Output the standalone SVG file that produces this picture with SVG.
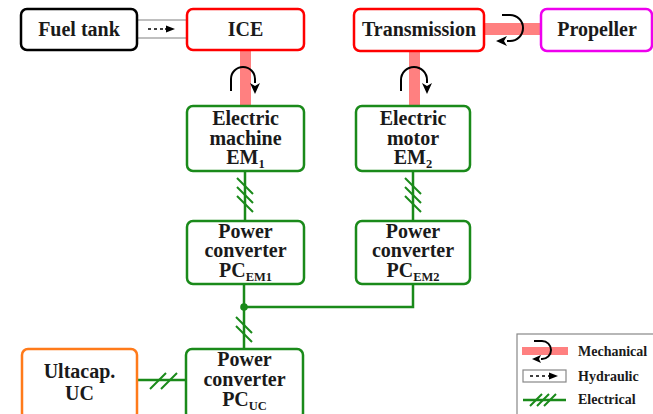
<svg xmlns="http://www.w3.org/2000/svg" width="653" height="414" viewBox="0 0 653 414">
<style>
.box{fill:#fff;stroke-width:2.5}
.t{font-family:"Liberation Serif","Times New Roman",serif;font-weight:bold;font-size:20px;fill:#1a1a1a;text-anchor:middle}
.lg{font-family:"Liberation Serif","Times New Roman",serif;font-weight:bold;font-size:14px;fill:#1a1a1a}
.sub{font-size:12.5px}
.el{stroke:#1a8a1a;stroke-width:2.5;fill:none}
.sl{stroke:#1a8a1a;stroke-width:2;fill:none}
.shaft{fill:#ff8080}
.rot{fill:none;stroke:#000;stroke-width:2}
</style>
<defs>
<marker id="ah" markerUnits="userSpaceOnUse" markerWidth="12" markerHeight="12" refX="0" refY="5" orient="auto" viewBox="0 0 12 10">
<path d="M0,0 L11,5 L0,10 L3,5 z" fill="#000"/>
</marker>
<marker id="ahs" markerUnits="userSpaceOnUse" markerWidth="9" markerHeight="8" refX="0" refY="4" orient="auto" viewBox="0 0 9 8">
<path d="M0,0 L9,4 L0,8 L2,4 z" fill="#000"/>
</marker>
<marker id="hd" markerUnits="userSpaceOnUse" markerWidth="9" markerHeight="8" refX="0" refY="3.5" orient="auto" viewBox="0 0 9 7">
<path d="M0,0 L9,3.5 L0,7 z" fill="#000"/>
</marker>
</defs>

<g id="connectors">
<rect x="137" y="20" width="50" height="18" fill="#fff" stroke="#aaa" stroke-width="1.5"/>
<line x1="148" y1="29" x2="166" y2="29" stroke="#000" stroke-width="1.5" stroke-dasharray="3,3"/>
<line x1="165" y1="29" x2="166" y2="29" stroke="#000" stroke-width="1.5" marker-end="url(#hd)"/>
<rect class="shaft" x="240" y="50" width="11" height="57"/>
<rect class="shaft" x="409" y="51" width="11" height="56"/>
<rect class="shaft" x="484" y="23" width="57" height="12"/>
<path class="rot" d="M231,91 L231,79 A12,12 0 0 1 255,79 L255,83" marker-end="url(#ah)"/>
<path class="rot" d="M401,91 L401,80 A13,13 0 0 1 427,80 L427,83" marker-end="url(#ah)"/>
<path class="rot" d="M502,15 L510,15 A13,13 0 0 1 510,41 L507,41" marker-end="url(#ah)"/>
<line class="el" x1="245" y1="171" x2="245" y2="221"/>
<path class="sl" d="M237,178 L253,194 M237,187 L253,203 M237,196 L253,212"/>
<line class="el" x1="413" y1="171" x2="413" y2="221"/>
<path class="sl" d="M405,178 L421,194 M405,187 L421,203 M405,196 L421,212"/>
<path class="el" d="M244,284 L244,349 M244,307 L413,307 L413,284"/>
<circle cx="244" cy="307" r="3.8" fill="#1a8a1a"/>
<path class="sl" d="M236,317 L252,333 M236,326 L252,342"/>
<line class="el" x1="137" y1="380" x2="186" y2="380"/>
<path class="sl" d="M150,389 L166,373 M161,389 L177,373"/>
</g>

<g id="fueltank">
<rect class="box" x="21" y="9" width="116" height="41" rx="6" stroke="#000"/>
<text class="t" x="79" y="36">Fuel tank</text>
</g>
<g id="ice">
<rect class="box" x="187" y="9" width="117" height="41" rx="6" stroke="#f00"/>
<text class="t" x="245.5" y="36">ICE</text>
</g>
<g id="transmission">
<rect class="box" x="354" y="9" width="130" height="42" rx="6" stroke="#f00"/>
<text class="t" x="419" y="36">Transmission</text>
</g>
<g id="propeller">
<rect class="box" x="541" y="9" width="111" height="42" rx="6" stroke="#ee00ee"/>
<text class="t" x="597" y="36">Propeller</text>
</g>
<g id="em1">
<rect class="box" x="187" y="106" width="117" height="65" rx="6" stroke="#1a8a1a"/>
<text class="t" x="245.5" y="125">Electric</text>
<text class="t" x="245.5" y="144.5">machine</text>
<text class="t" x="245.5" y="164">EM<tspan class="sub" dy="4">1</tspan></text>
</g>
<g id="em2">
<rect class="box" x="356" y="106" width="114" height="65" rx="6" stroke="#1a8a1a"/>
<text class="t" x="413" y="125">Electric</text>
<text class="t" x="413" y="144.5">motor</text>
<text class="t" x="413" y="164">EM<tspan class="sub" dy="4">2</tspan></text>
</g>
<g id="pcem1">
<rect class="box" x="187" y="221" width="117" height="63" rx="6" stroke="#1a8a1a"/>
<text class="t" x="245.5" y="237.5">Power</text>
<text class="t" x="245.5" y="257">converter</text>
<text class="t" x="245.5" y="276.5">PC<tspan class="sub" dy="4">EM1</tspan></text>
</g>
<g id="pcem2">
<rect class="box" x="356" y="221" width="114" height="63" rx="6" stroke="#1a8a1a"/>
<text class="t" x="413" y="237.5">Power</text>
<text class="t" x="413" y="257">converter</text>
<text class="t" x="413" y="276.5">PC<tspan class="sub" dy="4">EM2</tspan></text>
</g>
<g id="pcuc">
<rect class="box" x="186" y="349" width="117" height="70" rx="6" stroke="#1a8a1a"/>
<text class="t" x="244.5" y="366">Power</text>
<text class="t" x="244.5" y="386">converter</text>
<text class="t" x="244.5" y="406">PC<tspan class="sub" dy="4">UC</tspan></text>
</g>
<g id="uc">
<rect class="box" x="22" y="349" width="115" height="70" rx="6" stroke="#ff7a1a"/>
<text class="t" x="79.5" y="378">Ultacap.</text>
<text class="t" x="79.5" y="400">UC</text>
</g>

<g id="legend">
<rect x="517" y="334" width="150" height="100" fill="#fff" stroke="#888" stroke-width="1.2"/>
<rect class="shaft" x="522" y="347" width="46" height="8"/>
<path class="rot" d="M534,341 L542,341 A9,9 0 0 1 542,359 L541,359" marker-end="url(#ahs)"/>
<text class="lg" x="578" y="356">Mechanical</text>
<rect x="523" y="370" width="43" height="12" fill="#fff" stroke="#888" stroke-width="1.2"/>
<line x1="530" y1="376" x2="548" y2="376" stroke="#000" stroke-width="1.3" stroke-dasharray="3,3"/>
<line x1="548" y1="376" x2="549" y2="376" stroke="#000" stroke-width="1.3" marker-end="url(#hd)"/>
<text class="lg" x="578" y="381">Hydraulic</text>
<line class="el" x1="523" y1="400" x2="566" y2="400" stroke-width="2"/>
<path class="sl" d="M530,406 L542,394 M537,406 L549,394 M544,406 L556,394" stroke-width="1.6"/>
<text class="lg" x="578" y="404">Electrical</text>
</g>
</svg>
